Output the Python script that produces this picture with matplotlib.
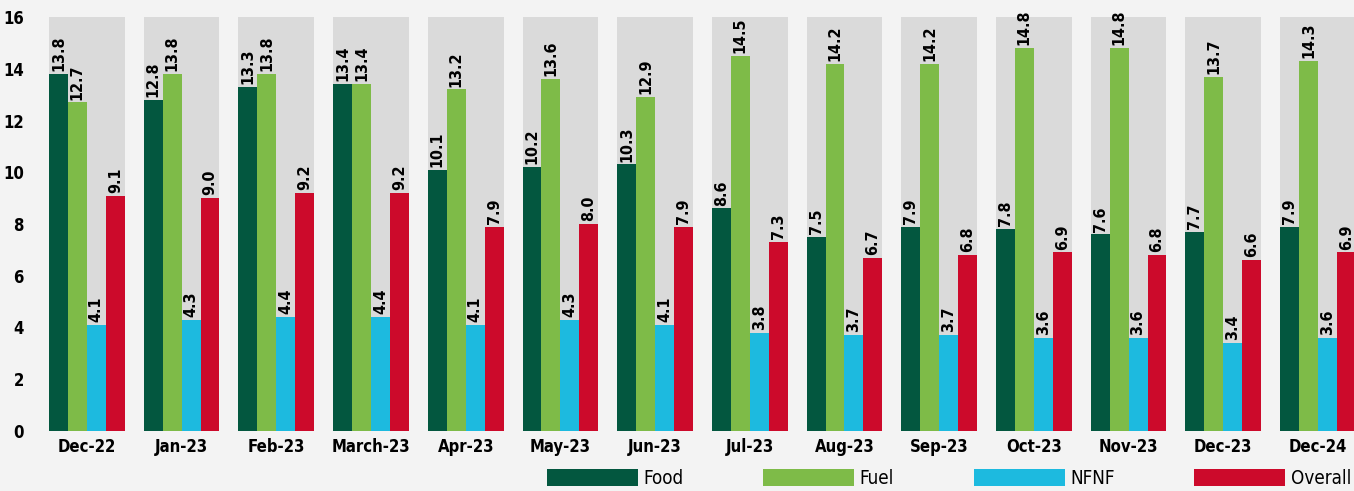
import matplotlib
matplotlib.use('Agg')
import matplotlib.pyplot as plt
import numpy as np

months = ["Dec-22", "Jan-23", "Feb-23", "March-23", "Apr-23", "May-23", "Jun-23",
          "Jul-23", "Aug-23", "Sep-23", "Oct-23", "Nov-23", "Dec-23", "Dec-24"]
food = [13.8, 12.8, 13.3, 13.4, 10.1, 10.2, 10.3, 8.6, 7.5, 7.9, 7.8, 7.6, 7.7, 7.9]
fuel = [12.7, 13.8, 13.8, 13.4, 13.2, 13.6, 12.9, 14.5, 14.2, 14.2, 14.8, 14.8, 13.7, 14.3]
nfnf = [4.1, 4.3, 4.4, 4.4, 4.1, 4.3, 4.1, 3.8, 3.7, 3.7, 3.6, 3.6, 3.4, 3.6]
overall = [9.1, 9.0, 9.2, 9.2, 7.9, 8.0, 7.9, 7.3, 6.7, 6.8, 6.9, 6.8, 6.6, 6.9]

series = [("Food", food, "#03573f"), ("Fuel", fuel, "#7ebb48"),
          ("NFNF", nfnf, "#1dbadf"), ("Overall", overall, "#cc0a2b")]

plt.rcParams['font.family'] = ['DejaVu Sans']
plt.rcParams['font.stretch'] = 'condensed'

W, H = 1354, 491
fig = plt.figure(figsize=(W / 100, H / 100), dpi=100, facecolor="#f3f3f3")
ax = fig.add_axes([49 / W, (H - 431) / H, (W - 49) / W, 414 / H])
ax.set_facecolor("#f3f3f3")

x = np.arange(len(months))
bw = 0.2
for i in x:
    ax.axvspan(i - 2 * bw, i + 2 * bw, color="#dadada", zorder=0, lw=0)

for k, (name, vals, col) in enumerate(series):
    pos = x - 1.5 * bw + k * bw
    bars = ax.bar(pos, vals, bw, color=col, label=name, zorder=2, lw=0)
    for b, v in zip(bars, vals):
        ax.annotate(f"{v:.1f}", (b.get_x() + bw / 2, v), xytext=(0, 2),
                    textcoords="offset points", rotation=90, ha="center",
                    va="bottom", fontsize=11.5, fontweight="bold")

ax.set_xlim(-0.4, -0.4 + (W - 49) / 94.7)
ax.set_ylim(0, 16)
ax.set_yticks(range(0, 17, 2))
ax.set_xticks(x)
ax.set_xticklabels(months)
ax.tick_params(length=0, labelsize=12, pad=5)
for t in ax.get_xticklabels() + ax.get_yticklabels():
    t.set_fontweight("bold")
ax.tick_params(axis="y", pad=18)
for s in ax.spines.values():
    s.set_visible(False)

fig.legend(loc="upper left", bbox_to_anchor=(547 / W, (H - 469) / H),
           ncol=4, frameon=False, fontsize=13.5, handlelength=4.85,
           handleheight=1.0, handletextpad=0.3, columnspacing=4.24,
           borderpad=0, borderaxespad=0)

fig.savefig("out.png", dpi=100, facecolor=fig.get_facecolor())
